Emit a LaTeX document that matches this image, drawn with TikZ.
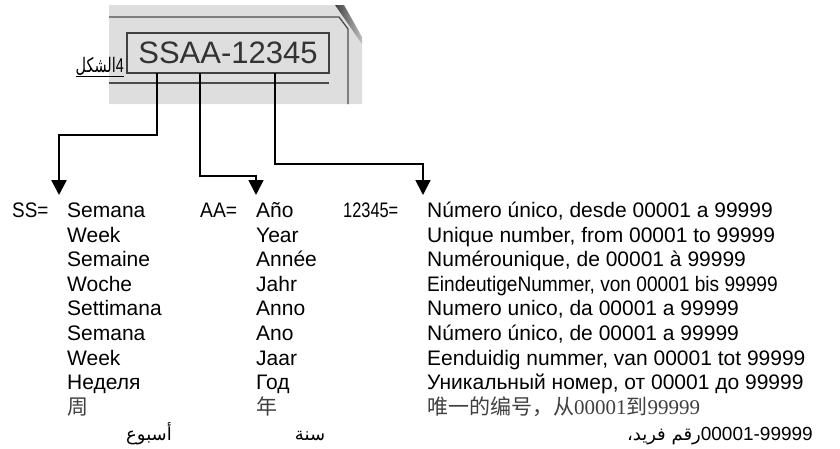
\documentclass[tikz,border=0pt]{standalone}
\usepackage{graphicx}
\usepackage{fontspec}
\setmainfont{Liberation Sans}
\newfontfamily\arabicfont[Script=Arabic]{DejaVu Sans}
\newfontfamily\cjk{Noto Sans CJK SC}
\newfontfamily\serifnum{Liberation Serif}
\TeXXeTstate=1
\usepackage{tikz}
\usetikzlibrary{arrows.meta, positioning}
\tikzstyle{word} = [inner sep=0pt, anchor=base west, font=\fontsize{21}{24}\selectfont]
\tikzstyle{hanzi} = [word, text=black!75]
\tikzstyle{arabic} = [inner sep=0pt, anchor=base, font=\fontsize{18}{20}\arabicfont]
\tikzstyle{link} = [-{Triangle[width=15pt,length=15pt]}]
\tikzstyle{panelline} = [draw=black!70, line width=1.3pt]

\begin{document}
\begin{tikzpicture}[x=1pt, y=-1pt]
  \useasboundingbox (0,0) rectangle (840,448);

  % label panel
  \fill[black!13] (109,5) -- (337,5) -- (362,42) -- (362,104) -- (109,104) -- cycle;
  \shade[left color=black!75, right color=black!25] (335,5) -- (344,5) -- (362,37) -- (362,44) -- cycle;
  \draw[panelline] (109,17) -- (339,17) -- (348,29) -- (348,104);
  \draw[panelline] (109,83) -- (329,83);
  \node (code) [draw=black!75, line width=1.5pt, fill=black!13, text=black!80,
        minimum width=202pt, minimum height=40pt, inner sep=0pt,
        font=\fontsize{31}{31}\selectfont] at (228,53) {SSAA-12345};

  \node (fig) [inner sep=0pt, anchor=base east, font=\fontsize{20}{24}\selectfont]
        at (124,72) {\underline{\scalebox{0.72}[1]{{\arabicfont\beginR الشكل\endR}4}}};

  % keys
  \node (ss)  [word] at (12,217.5)  {\scalebox{0.9}[1]{SS=}};
  \node (aa)  [word] at (200,217.5) {\scalebox{0.92}[1]{AA=}};
  \node (num) [word] at (343,217.5) {\scalebox{0.78}[1]{12345=}};

  % week / year columns
  \foreach \w [count=\i from 0] in {Semana, Week, Semaine, Woche, Settimana, Semana, Week, Неделя}
    \node (wk\i) [word] at (67,{217.5+24.6*\i}) {\w};
  \foreach \w [count=\i from 0] in {Año, Year, Année, Jahr, Anno, Ano, Jaar, Год}
    \node (yr\i) [word] at (256,{217.5+24.6*\i}) {\w};
  \node (wk8) [hanzi] at (67,414.3)  {\cjk 周};
  \node (yr8) [hanzi] at (256,414.3) {\cjk 年};

  % number column
  \node (no0) [word] at (427,217.5) {Número único, desde 00001 a 99999};
  \node (no1) [word] at (427,242.1) {Unique number, from 00001 to 99999};
  \node (no2) [word] at (427,266.7) {Numérounique, de 00001 à 99999};
  \node (no3) [word] at (427,291.3) {\scalebox{0.91}[1]{EindeutigeNummer, von 00001 bis 99999}};
  \node (no4) [word] at (427,315.9) {Numero unico, da 00001 a 99999};
  \node (no5) [word] at (427,340.5) {Número único, de 00001 a 99999};
  \node (no6) [word] at (427,365.1) {Eenduidig nummer, van 00001 tot 99999};
  \node (no7) [word] at (427,389.7) {Уникальный номер, от 00001 до 99999};
  \node (no8) [hanzi] at (427,414.3)
        {{\cjk 唯一的编号，从}{\serifnum 00001}{\cjk 到}{\serifnum 99999}};

  \node (wkar) [arabic] at (149,440) {\beginR أسبوع\endR};
  \node (yrar) [arabic] at (310,440) {\beginR سنة\endR};
  \node (noar) [arabic, anchor=base east] at (813,440)
        {{\beginR رقم فريد،\endR}{\fontsize{19}{22}\rmfamily 00001-99999}};

  % arrows from the code box
  \coordinate (ssfoot)  at (157,73);
  \coordinate (aafoot)  at (200,73);
  \coordinate (numfoot) at (275,73);
  \coordinate (sstip)   at (59,195);
  \coordinate (aatip)   at (256,195);
  \coordinate (numtip)  at (423,195);

  \foreach \a/\b/\d/\w in {ssfoot/sstip/62/2.6, aafoot/aatip/103/1.7, numfoot/numtip/91/1.7}
    \draw[link, line width=\w pt] (\a) -- ++(0,\d) -| (\b);

\end{tikzpicture}
\end{document}
